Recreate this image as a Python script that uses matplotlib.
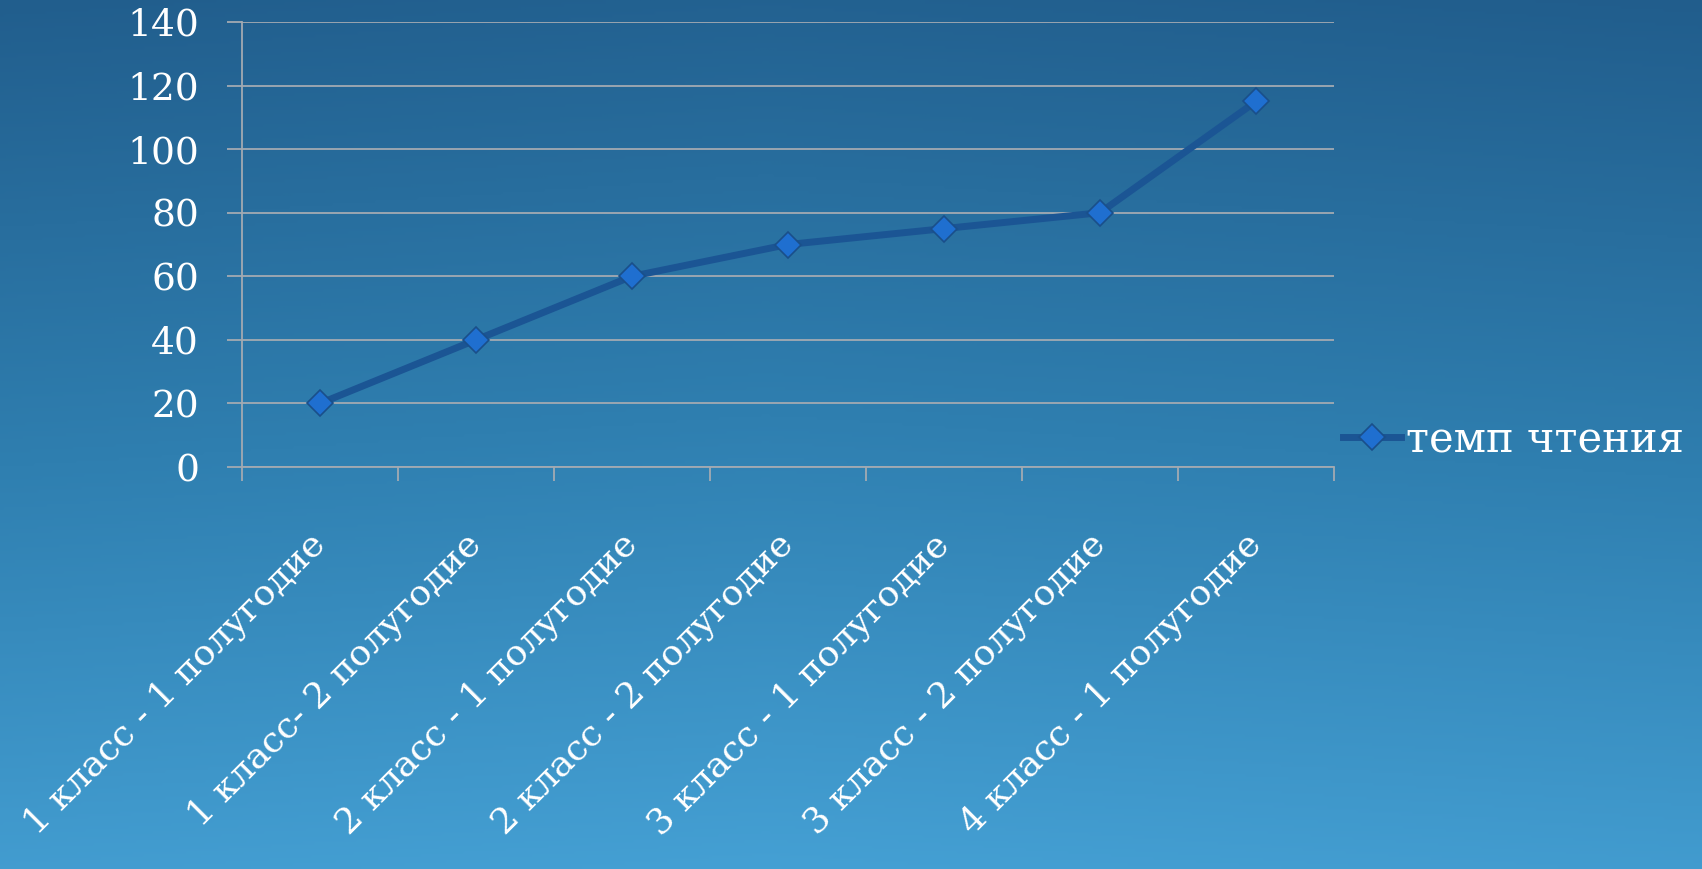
import numpy as np
import matplotlib
matplotlib.use('Agg')
import matplotlib.pyplot as plt
from matplotlib.colors import LinearSegmentedColormap

# data
categories = ['1 класс - 1 полугодие', '1 класс- 2 полугодие', '2 класс - 1 полугодие',
              '2 класс - 2 полугодие', '3 класс - 1 полугодие', '3 класс - 2 полугодие',
              '4 класс - 1 полугодие']
tempo = [20, 40, 60, 70, 75, 80, 115]
y_ticks = [0, 20, 40, 60, 80, 100, 120, 140]
series_name = 'темп чтения'

plt.rcParams['font.family'] = ['DejaVu Serif']

W, H, DPI = 1702, 869, 100
fig = plt.figure(figsize=(W / DPI, H / DPI), dpi=DPI)

# gradient background
bg = fig.add_axes([0, 0, 1, 1])
bg.set_axis_off()
cmap = LinearSegmentedColormap.from_list('bg', ['#215d8c', '#2f7fb0', '#46a2d6'])
yy = np.linspace(0, 1, 300)[:, None]
xx = np.linspace(0, 1, 400)[None, :]
grad = yy * 0.9 + (1 - np.abs(xx - 0.45)) * 0.12 - 0.05
bg.imshow(grad, cmap=cmap, aspect='auto', extent=[0, 1, 0, 1], origin='upper',
          vmin=0, vmax=1)
bg.set_zorder(-10)

# plot area (pixels: left 242, right 1334, top 22, bottom 467)
ax = fig.add_axes([242 / W, 1 - 467 / H, (1334 - 242) / W, (467 - 22) / H])
ax.patch.set_alpha(0)

x = np.arange(len(categories))
ax.plot(x, tempo, color='#1b5594', lw=5, marker='D', markersize=13,
        markerfacecolor='#1f6fd0', markeredgecolor='#1a4f8a', markeredgewidth=1.2,
        label=series_name, zorder=5)

ax.set_xlim(-0.5, len(categories) - 0.5)
ax.set_ylim(0, 140)
ax.set_yticks(y_ticks)
ax.yaxis.grid(True, color='#a3aab2', lw=1.3)
ax.set_axisbelow(True)

for s in ['top', 'right']:
    ax.spines[s].set_visible(False)
for s in ['left', 'bottom']:
    ax.spines[s].set_color('#a3aab2')
    ax.spines[s].set_linewidth(1.3)

ax.tick_params(axis='y', colors='#a3aab2', length=11, width=1.3, labelcolor='white',
               labelsize=27, pad=20)

# x ticks at category boundaries, labels at centres
ax.set_xticks(np.arange(len(categories) + 1) - 0.5)
ax.set_xticklabels([])
ax.tick_params(axis='x', which='major', colors='#a3aab2', length=10, width=1.3)
ax.set_xticks(x, minor=True)
ax.set_xticklabels(categories, minor=True, rotation=45, ha='right', va='center',
                   rotation_mode='anchor', color='white', fontsize=26)
ax.tick_params(axis='x', which='minor', length=0, pad=52)

leg = fig.legend(loc='center left', bbox_to_anchor=(1343 / W, 1 - 440 / H), frameon=False,
                 fontsize=30, handlelength=1.4, handletextpad=0.1, borderaxespad=0,
                 borderpad=0)
for t in leg.get_texts():
    t.set_color('white')

fig.savefig('out.png', dpi=DPI)
